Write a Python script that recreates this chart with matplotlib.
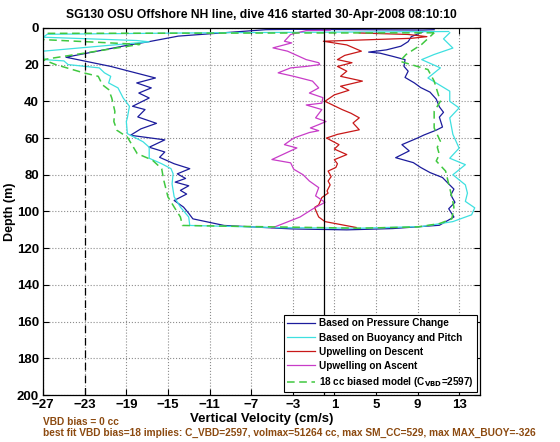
import matplotlib
matplotlib.use('Agg')
import matplotlib.pyplot as plt

plt.rcParams['font.family'] = ['Liberation Sans', 'DejaVu Sans']
plt.rcParams['font.weight'] = 'bold'
plt.rcParams['mathtext.default'] = 'regular'

# (vertical velocity cm/s, depth m), in path order
press = [(10.6, 1.0), (9.5, 1.2), (-3.0, 0.8), (-5.6, 1.0), (-14.0, 4.5), (-16.9, 7.6),
         (-18.9, 9.5), (-24.8, 16.0), (-20.5, 21.0), (-16.2, 27.3), (-18.0, 30.0),
         (-16.6, 32.7), (-17.8, 35.5), (-16.8, 38.2), (-18.4, 42.7), (-17.2, 44.5),
         (-17.9, 48.5), (-16.1, 52.0), (-17.6, 55.0), (-18.6, 58.5), (-15.3, 61.0),
         (-16.8, 65.0), (-15.3, 67.6), (-15.8, 70.5), (-14.4, 74.0), (-12.9, 76.7),
         (-14.1, 79.5), (-13.3, 82.0), (-14.3, 84.0), (-13.0, 86.0), (-13.8, 88.5),
         (-13.2, 90.5), (-14.4, 94.0), (-13.5, 97.6), (-13.0, 101.0), (-12.6, 104.0),
         (-9.6, 107.6), (-3.0, 109.5), (2.2, 110.0), (6.6, 109.3), (11.1, 107.5),
         (12.5, 103.0), (12.0, 98.5), (12.6, 95.0), (12.2, 91.0), (12.5, 87.8),
         (12.0, 85.0), (11.4, 81.5), (10.2, 78.8), (9.3, 76.0), (8.6, 73.4), (6.9, 70.7),
         (8.2, 67.0), (7.5, 63.6), (9.0, 60.0), (9.6, 58.4), (10.8, 55.7), (11.4, 54.0),
         (11.1, 48.6), (11.5, 46.0), (11.1, 43.0), (10.8, 38.8), (10.2, 35.0), (9.3, 32.5),
         (8.7, 30.0), (7.8, 27.0), (8.1, 23.6), (7.7, 21.0), (7.8, 17.3), (6.6, 15.5),
         (5.4, 13.8), (4.3, 13.2), (6.0, 12.0), (7.4, 10.0), (8.1, 7.5), (8.4, 4.8),
         (9.5, 2.2)]

buoy = [(12.0, 2.0), (-11.3, 2.7), (-26.6, 3.5), (-27.0, 5.1), (-18.0, 6.9), (-16.8, 7.6),
        (-27.0, 12.7), (-26.9, 17.3), (-25.0, 18.0), (-24.6, 20.0), (-21.6, 21.8),
        (-21.1, 24.5), (-20.5, 26.4), (-20.7, 30.0), (-19.8, 32.7), (-19.3, 38.2),
        (-18.7, 42.7), (-18.9, 49.0), (-19.0, 51.0), (-18.9, 57.6), (-17.4, 62.0),
        (-16.8, 65.0), (-16.8, 71.0), (-15.6, 74.0), (-14.7, 76.7), (-14.5, 79.5),
        (-14.6, 85.0), (-14.4, 92.0), (-13.8, 97.6), (-13.0, 103.0), (-12.9, 107.6),
        (-4.0, 108.8), (3.4, 109.1), (9.4, 108.2), (12.4, 105.5), (14.2, 101.8),
        (14.5, 98.0), (13.6, 94.5), (13.8, 90.0), (13.6, 85.5), (12.4, 80.0), (13.6, 74.5),
        (12.1, 71.0), (13.0, 65.5), (12.4, 58.0), (12.1, 49.0), (13.0, 43.6), (12.1, 40.0),
        (12.1, 34.5), (10.0, 27.3), (11.2, 21.8), (9.4, 17.3), (10.6, 14.5), (12.4, 11.0),
        (11.5, 6.0), (12.1, 2.7)]

upw_desc = [(3.4, 2.8), (8.1, 3.6), (9.9, 4.8), (8.4, 5.7), (-0.05, 7.3), (2.2, 9.3),
            (3.6, 12.7), (2.0, 15.0), (1.3, 17.3), (2.7, 19.0), (1.3, 21.0), (2.2, 23.6),
            (1.6, 26.4), (3.7, 29.0), (1.6, 31.8), (2.4, 34.0), (1.0, 36.5), (0.1, 40.0),
            (1.75, 44.5), (2.6, 46.5), (3.4, 49.0), (2.8, 51.8), (3.4, 55.5), (1.3, 58.0),
            (0.25, 60.0), (1.45, 63.6), (1.0, 66.0), (2.2, 69.0), (1.0, 71.8), (1.3, 74.0),
            (1.15, 76.0), (0.4, 78.0), (0.7, 81.0), (0.4, 83.4), (0.6, 85.5), (0.3, 88.8),
            (0.4, 90.0), (-0.2, 92.4), (-0.5, 96.4), (-0.9, 97.8), (-0.6, 101.8),
            (-0.5, 103.0), (0.1, 105.5), (3.1, 108.7)]

upw_asc = [(-5.0, 109.0), (-4.1, 107.0), (-2.3, 103.0), (-1.1, 98.7), (0.1, 95.0),
           (-0.8, 91.5), (-0.5, 87.0), (-1.4, 83.4), (-2.0, 80.0), (-2.9, 77.0),
           (-3.2, 73.5), (-5.0, 71.7), (-2.6, 65.4), (-3.8, 63.6), (-2.9, 60.0),
           (-1.4, 57.0), (-0.5, 56.0), (-1.3, 54.5), (-0.5, 52.7), (0.2, 51.0),
           (-0.8, 49.0), (-0.2, 44.5), (-1.7, 42.0), (-0.2, 41.0), (-0.1, 38.0),
           (-1.4, 35.5), (-0.5, 32.7), (-1.1, 29.0), (-2.9, 26.4), (-4.4, 24.5),
           (-3.2, 21.8), (-1.7, 21.0), (-0.4, 20.0), (-0.5, 19.0), (-1.7, 17.3),
           (-3.5, 12.7), (-4.9, 10.9), (-3.1, 8.2), (-3.8, 7.3), (-3.2, 3.6),
           (-1.7, 1.5), (0.6, 1.3)]

model = [(10.6, 2.7), (-27.0, 3.0), (-27.0, 6.4), (-17.7, 9.0), (-27.0, 17.3),
         (-25.8, 20.0), (-23.1, 24.5), (-21.7, 26.4), (-21.3, 31.0), (-20.7, 33.6),
         (-20.4, 38.2), (-20.1, 45.5), (-20.2, 51.0), (-19.9, 55.8), (-18.9, 59.5),
         (-17.95, 68.5), (-16.5, 72.0), (-15.6, 76.7), (-15.4, 83.0), (-15.0, 92.0),
         (-14.4, 97.6), (-13.8, 103.0), (-13.6, 107.6), (3.4, 109.1), (9.0, 108.4),
         (11.1, 106.6), (12.3, 104.0), (12.5, 97.6), (12.3, 92.0), (12.0, 85.0),
         (11.7, 78.0), (10.8, 72.5), (11.1, 69.0), (10.9, 65.0), (11.2, 61.8),
         (10.6, 54.5), (10.6, 45.5), (11.2, 40.0), (10.6, 29.0), (10.0, 22.7),
         (7.3, 18.2), (7.9, 14.5), (9.4, 9.0), (10.6, 2.7)]

labels = ['Based on Pressure Change', 'Based on Buoyancy and Pitch',
          'Upwelling on Descent', 'Upwelling on Ascent',
          r'18 cc biased model (C$_{\mathbf{VBD}}$=2597)']
xticks = list(range(-27, 14, 4))
yticks = list(range(0, 201, 20))

fig = plt.figure(figsize=(5.6, 4.42), dpi=100)
ax = fig.add_axes([0.077, 0.106, 0.78, 0.831])

series = [(press, '#1c1c9c', '-'), (buoy, '#3ee0e0', '-'), (upw_desc, '#c81818', '-'),
          (upw_asc, '#c83cc8', '-'), (model, '#40c840', '--')]
for (pts, col, ls), lab in zip(series, labels):
    w, d = zip(*pts)
    if ls == '--':
        ax.plot(w, d, color=col, linestyle='--', dashes=(5, 3), lw=1.1, label=lab)
    else:
        ax.plot(w, d, color=col, lw=0.9, label=lab)

ax.axvline(-23, color='k', linestyle='--', dashes=(6, 4), lw=0.9)
ax.axvline(0, color='k', lw=0.9)

ax.set_xlim(-27, 15)
ax.set_ylim(200, 0)
ax.set_xticks(xticks)
ax.set_yticks(yticks)
ax.grid(True, linestyle=':', color='0.55', lw=0.8)
ax.tick_params(direction='in', top=True, right=True, labelsize=9.5, length=4, pad=3)
for s in ax.spines.values():
    s.set_linewidth(0.9)

ax.set_title('SG130 OSU Offshore NH line, dive 416 started 30-Apr-2008 08:10:10',
             fontsize=8.7, fontweight='bold', pad=7)
ax.set_xlabel('Vertical Velocity (cm/s)', fontsize=9.5, fontweight='bold', labelpad=1)
ax.set_ylabel('Depth (m)', fontsize=9, fontweight='bold')
ax.yaxis.set_label_coords(-0.062, 0.5)

leg = ax.legend(loc='lower right', fontsize=7.2, handlelength=2.8, labelspacing=0.42,
                borderaxespad=0.3, borderpad=0.3, handletextpad=0.4, fancybox=False,
                framealpha=1, edgecolor='k')
leg.get_frame().set_linewidth(0.8)

brown = '#8c4a10'
fig.text(0.077, 0.045, 'VBD bias = 0 cc', color=brown, fontsize=7.3, fontweight='bold',
         va='center')
fig.text(0.077, 0.02, 'best fit VBD bias=18 implies: C_VBD=2597, volmax=51264 cc, '
         'max SM_CC=529, max MAX_BUOY=-326', color=brown, fontsize=7.3,
         fontweight='bold', va='center')

fig.savefig('out.png', dpi=100)
